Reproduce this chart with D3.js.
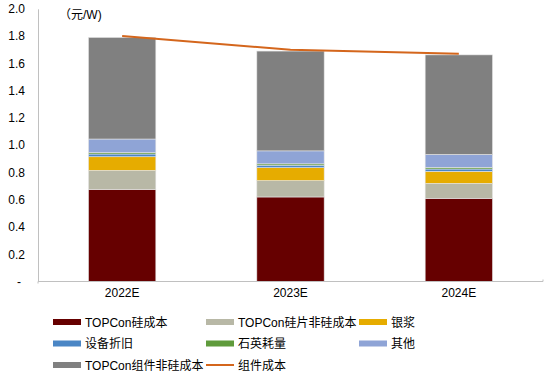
<!DOCTYPE html>
<html><head><meta charset="utf-8">
<script src="https://cdn.jsdelivr.net/npm/d3@7/dist/d3.min.js"></script>
<style>body{margin:0;background:#fff;}svg{display:block;font-family:"Liberation Sans",Arial,"Noto Sans CJK SC",sans-serif;}</style>
</head><body><svg id="c" width="550" height="372"></svg>
<script>
const categories = ["2022E", "2023E", "2024E"];
const seriesNames = ["TOPCon硅成本", "TOPCon硅片非硅成本", "银浆", "设备折旧", "石英耗量", "其他", "TOPCon组件非硅成本"];
const siliconCost = [0.675, 0.62, 0.61];
const waferNonSi = [0.14, 0.12, 0.11];
const silverPaste = [0.10, 0.095, 0.088];
const equipDep = [0.02, 0.018, 0.017];
const quartz = [0.01, 0.01, 0.012];
const others = [0.10, 0.095, 0.095];
const moduleNonSi = [0.745, 0.732, 0.73];
const lineName = "组件成本";
const moduleCost = [1.80, 1.70, 1.67];
const yTicks = [0, 0.2, 0.4, 0.6, 0.8, 1.0, 1.2, 1.4, 1.6, 1.8, 2.0];
const colors = ["#660000", "#b8b8a6", "#e6ac00", "#4a86c5", "#5f9b3c", "#8fa4d6", "#808080"];
const lineColor = "#d4661c";

const series = [siliconCost, waferNonSi, silverPaste, equipDep, quartz, others, moduleNonSi];
const svg = d3.select("#c");
const x = d3.scaleBand().domain(categories).range([38, 543]).paddingInner(0.6).paddingOuter(0.3);
const y = d3.scaleLinear().domain([0, 2.0]).range([281.5, 8.8]);

// rows for stack
const rows = categories.map((c, i) => {
  const r = {cat: c};
  seriesNames.forEach((s, k) => r[s] = series[k][i]);
  return r;
});
const stack = d3.stack().keys(seriesNames)(rows);

svg.append("g").selectAll("g").data(stack).join("g")
  .attr("fill", (d, k) => colors[k])
  .selectAll("rect").data(d => d).join("rect")
  .attr("x", d => x(d.data.cat))
  .attr("width", x.bandwidth())
  .attr("y", d => y(d[1]))
  .attr("height", d => y(d[0]) - y(d[1]))
  .attr("stroke", "#e4e4e4").attr("stroke-width", 0.6);

// axes
const yAxis = d3.axisLeft(y).tickValues(yTicks).tickSize(0).tickPadding(13)
  .tickFormat(d => d === 0 ? "-" : d3.format(".1f")(d));
const gy = svg.append("g").attr("transform", "translate(38,0)").call(yAxis);
gy.select(".domain").attr("stroke", "#c0c0c0");
gy.selectAll("text").attr("font-size", 12).attr("fill", "#000")
  .attr("dx", d => d === 0 ? -4 : 0);

const xAxis = d3.axisBottom(x).tickSize(0).tickPadding(7);
const gx = svg.append("g").attr("transform", "translate(0,281.5)").call(xAxis);
gx.select(".domain").attr("stroke", "#c0c0c0").attr("d", "M38,2V0H543V-2");
gx.selectAll("text").attr("font-size", 12).attr("fill", "#000");

// line
const line = d3.line().x((d, i) => x(categories[i]) + x.bandwidth() / 2).y(d => y(d));
svg.append("path").datum(moduleCost).attr("d", line)
  .attr("fill", "none").attr("stroke", lineColor).attr("stroke-width", 2);

// unit
svg.append("text").attr("x", 59).attr("y", 19).attr("font-size", 12).attr("fill", "#000").text("（元/W)");

// legend
const legendItems = seriesNames.map((s, k) => ({name: s, color: colors[k], type: "bar"}))
  .concat([{name: lineName, color: lineColor, type: "line"}]);
const colX = [53, 206, 359];
const rowY = [322, 343.5, 365];
const lg = svg.append("g").selectAll("g").data(legendItems).join("g")
  .attr("transform", (d, i) => `translate(${colX[i % 3]},${rowY[Math.floor(i / 3)]})`);
lg.append("rect").attr("x", 0).attr("width", 28)
  .attr("y", d => d.type === "bar" ? -3 : -1).attr("height", d => d.type === "bar" ? 6 : 2)
  .attr("fill", d => d.color);
lg.append("text").attr("x", 32).attr("y", 4.5).attr("font-size", 12).attr("fill", "#000").text(d => d.name);
</script></body></html>
